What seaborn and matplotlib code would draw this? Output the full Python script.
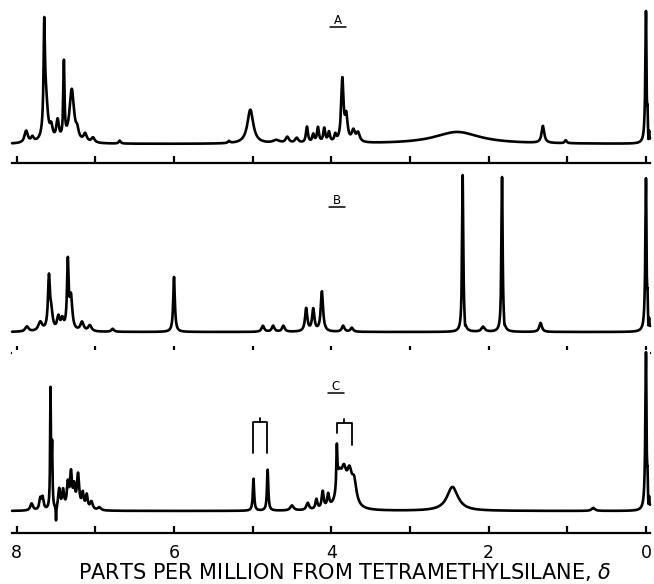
import numpy as np
import pandas as pd
import matplotlib
matplotlib.use('Agg')
import matplotlib.pyplot as plt
from matplotlib.lines import Line2D
import seaborn as sns

sns.set_style('white')
plt.rcParams['font.family'] = ['DejaVu Sans']
plt.rcParams['text.color'] = 'black'
plt.rcParams['xtick.color'] = 'black'
plt.rcParams['axes.labelcolor'] = 'black'

# peak tables: (ppm, height, fwhm), heights in px above baseline
peaks_a = [
    (7.88, 12, 0.05), (7.80, 5, 0.04), (7.65, 96, 0.02), (7.63, 42, 0.06),
    (7.56, 12, 0.04), (7.48, 20, 0.04), (7.40, 76, 0.018), (7.30, 53, 0.07),
    (7.23, 8, 0.04), (7.13, 8, 0.05), (7.03, 5, 0.05), (6.69, 3, 0.03),
    (5.30, 2, 0.03), (5.03, 34, 0.09), (4.70, 3, 0.1), (4.56, 6, 0.05),
    (4.44, 5, 0.05), (4.31, 16, 0.03), (4.23, 8, 0.03), (4.17, 15, 0.03),
    (4.09, 14, 0.03), (4.03, 10, 0.03), (3.95, 7, 0.03), (3.86, 62, 0.035),
    (3.81, 24, 0.04), (3.72, 11, 0.05), (3.66, 9, 0.05), (2.40, 12, 0.7),
    (1.31, 17, 0.04), (1.02, 3, 0.03), (0.00, 134, 0.02),
]
peaks_b = [
    (7.87, 5, 0.05), (7.70, 9, 0.06), (7.59, 52, 0.03), (7.56, 16, 0.04),
    (7.47, 13, 0.04), (7.42, 10, 0.04), (7.35, 67, 0.025), (7.31, 32, 0.04),
    (7.17, 9, 0.05), (7.07, 6, 0.05), (6.78, 3, 0.04), (6.00, 55, 0.025),
    (4.87, 6, 0.04), (4.74, 6, 0.04), (4.61, 6, 0.04), (4.32, 23, 0.035),
    (4.23, 22, 0.035), (4.12, 40, 0.035), (3.85, 6, 0.04), (3.74, 4, 0.04),
    (2.33, 157, 0.018), (2.30, -6, 0.01), (2.07, 5, 0.05), (1.83, 155, 0.018),
    (1.80, -5, 0.01), (1.34, 9, 0.04), (0.00, 155, 0.02),
]
peaks_c = [
    (7.81, 7, 0.04), (7.70, 11, 0.03), (7.67, 12, 0.03), (7.57, 118, 0.012),
    (7.55, 60, 0.012), (7.50, -15, 0.008), (7.46, 20, 0.03), (7.41, 18, 0.03),
    (7.35, 24, 0.03), (7.31, 34, 0.03), (7.27, 20, 0.03), (7.22, 34, 0.035),
    (7.16, 15, 0.03), (7.11, 14, 0.03), (7.05, 8, 0.04), (6.95, 3, 0.05),
    (4.99, 32, 0.02), (4.81, 41, 0.02), (4.50, 5, 0.05), (4.30, 7, 0.04),
    (4.19, 10, 0.03), (4.11, 17, 0.03), (4.04, 13, 0.03), (3.93, 42, 0.015),
    (3.90, 28, 0.08), (3.84, 29, 0.08), (3.77, 30, 0.08), (3.71, 22, 0.07),
    (2.46, 24, 0.17), (0.67, 3, 0.05), (0.00, 160, 0.02),
]
# TMS ringing just upfield of 0 ppm
ringing = [(-0.010, -18, 0.006), (-0.020, 14, 0.006), (-0.030, -10, 0.006), (-0.040, 6, 0.006)]

panel_labels = ['A', 'B', 'C']
tick_ppm = [0, 1, 2, 3, 4, 5, 6, 7, 8]
label_ppm = [8, 6, 4, 2, 0]

# brackets over the signals in C: (left ppm, right ppm, top, left leg end, right leg end)
brackets_c = [(5.00, 4.82, 89, 58, 58), (3.93, 3.74, 88, 78, 66)]

W, H = 654, 584
x_left, x_right = 12, 650
scale = 78.66          # px per ppm
ppm_left = (646 - x_left) / scale
ppm_right = (646 - x_right) / scale

ppm = np.arange(ppm_right, ppm_left, 0.001)


def spectrum(peaks):
    y = np.zeros_like(ppm)
    for x0, h, w in list(peaks) + ringing:
        y += h / (1 + ((ppm - x0) / (w / 2)) ** 2)
    return pd.DataFrame({'ppm': ppm, 'intensity': y})


fig = plt.figure(figsize=(W / 100, H / 100), dpi=100)

# (spine px, top px, baseline offset px)
layout = [(163, 3, 19), (353, 172, 21), (533, 350, 22)]
label_pos = [(338, 21), (337, 201), (336, 387)]

for i, (peaks, (spine, top, off)) in enumerate(zip([peaks_a, peaks_b, peaks_c], layout)):
    ax = fig.add_axes([x_left / W, (H - spine) / H, (x_right - x_left) / W, (spine - top) / H])
    df = spectrum(peaks)
    sns.lineplot(data=df, x='ppm', y='intensity', ax=ax, color='black',
                 lw=1.9, estimator=None, sort=False)
    for ln in ax.lines:
        ln.set_clip_on(False)
    ax.set_xlim(ppm_left, ppm_right)
    ax.set_ylim(-off, spine - top - off)
    for s in ['top', 'left', 'right']:
        ax.spines[s].set_visible(False)
    ax.spines['bottom'].set_linewidth(1.6)
    ax.spines['bottom'].set_color('black')
    ax.set_yticks([])
    ax.set_xticks(tick_ppm)
    ax.tick_params(axis='x', direction='in', length=5, width=1.6, bottom=True, pad=8)
    ax.set_xlabel('')
    ax.set_ylabel('')
    if i == 2:
        ax.set_xticklabels([str(t) if t in label_ppm else '' for t in tick_ppm], fontsize=12.5)
        ax.set_xlabel('PARTS PER MILLION FROM TETRAMETHYLSILANE, $\\delta$', fontsize=15)
        ax.xaxis.set_label_coords((345 - x_left) / (x_right - x_left), -(561 - spine) / (spine - top))
        for l, r, t, hl, hr in brackets_c:
            ax.plot([l, l, r, r], [hl, t, t, hr], color='black', lw=1.3)
            ax.plot([(l + r) / 2] * 2, [t, t + 4], color='black', lw=1.3)
    else:
        ax.set_xticklabels([])
    lx, ly = label_pos[i]
    fig.text(lx / W, 1 - ly / H, panel_labels[i], ha='center', va='center', fontsize=8.5)
    fig.add_artist(Line2D([(lx - 8) / W, (lx + 8) / W], [1 - (ly + 6) / H] * 2,
                          color='black', lw=1.1))

fig.savefig('out.png', dpi=100)
